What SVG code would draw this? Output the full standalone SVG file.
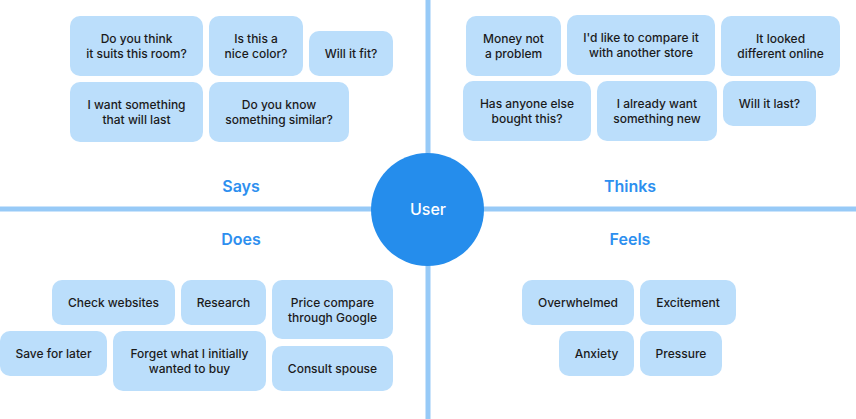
<svg xmlns="http://www.w3.org/2000/svg" width="856" height="419" viewBox="0 0 856 419">
<style>
.box{fill:#BBDEFB}
.t{font-family:Inter,"Noto Sans","Liberation Sans",sans-serif;font-size:12px;font-weight:500;fill:#1B1B1B;text-anchor:middle}
.lbl{font-family:Inter,"Noto Sans","Liberation Sans",sans-serif;font-size:16px;font-weight:600;fill:#2D8FEF;text-anchor:middle}
.axis{stroke:#97CAF7;stroke-width:5;fill:none}
</style>
<rect width="856" height="419" fill="#FFFFFF"/>
<g id="connectors">
<line class="axis" x1="0" y1="209" x2="856" y2="209"/>
<line class="axis" x1="428" y1="0" x2="428" y2="419"/>
</g>
<g id="labels">
<text class="lbl" x="241" y="192">Says</text>
<text class="lbl" x="630" y="192">Thinks</text>
<text class="lbl" x="241" y="245">Does</text>
<text class="lbl" x="630" y="245">Feels</text>
</g>
<g id="user">
<circle cx="427.5" cy="209.5" r="56.5" fill="#258DEC"/>
<text x="428" y="214.5" style="font-family:Inter,'Noto Sans','Liberation Sans',sans-serif;font-size:16px;font-weight:500;fill:#FFFFFF;text-anchor:middle">User</text>
</g>
<g id="says">
<g id="s1"><rect class="box" x="70" y="16" width="133" height="60" rx="10"/><text class="t" x="136.5" y="42.7">Do you think</text><text class="t" x="136.5" y="57.7">it suits this room?</text></g>
<g id="s2"><rect class="box" x="209" y="16" width="94" height="60" rx="10"/><text class="t" x="256" y="42.7">Is this a</text><text class="t" x="256" y="57.7">nice color?</text></g>
<g id="s3"><rect class="box" x="309" y="31" width="84" height="45" rx="10"/><text class="t" x="351" y="57.8">Will it fit?</text></g>
<g id="s4"><rect class="box" x="70" y="82" width="133" height="60" rx="10"/><text class="t" x="136.5" y="108.7">I want something</text><text class="t" x="136.5" y="123.7">that will last</text></g>
<g id="s5"><rect class="box" x="209" y="82" width="140" height="60" rx="10"/><text class="t" x="279" y="108.7">Do you know</text><text class="t" x="279" y="123.7">something similar?</text></g>
</g>
<g id="thinks">
<g id="t1"><rect class="box" x="466" y="16" width="95" height="60" rx="10"/><text class="t" x="513.5" y="42.7">Money not</text><text class="t" x="513.5" y="57.7">a problem</text></g>
<g id="t2"><rect class="box" x="567" y="15" width="148" height="60" rx="10"/><text class="t" x="641" y="41.7">I'd like to compare it</text><text class="t" x="641" y="56.7">with another store</text></g>
<g id="t3"><rect class="box" x="721" y="16" width="119" height="60" rx="10"/><text class="t" x="780.5" y="42.7">It looked</text><text class="t" x="780.5" y="57.7">different online</text></g>
<g id="t4"><rect class="box" x="463" y="81" width="128" height="60" rx="10"/><text class="t" x="527" y="107.7">Has anyone else</text><text class="t" x="527" y="122.7">bought this?</text></g>
<g id="t5"><rect class="box" x="597" y="81" width="120" height="60" rx="10"/><text class="t" x="657" y="107.7">I already want</text><text class="t" x="657" y="122.7">something new</text></g>
<g id="t6"><rect class="box" x="723" y="81" width="93" height="45" rx="10"/><text class="t" x="769.5" y="107.8">Will it last?</text></g>
</g>
<g id="does">
<g id="d1"><rect class="box" x="52" y="280" width="123" height="45" rx="10"/><text class="t" x="113.5" y="306.8">Check websites</text></g>
<g id="d2"><rect class="box" x="181" y="280" width="85" height="45" rx="10"/><text class="t" x="223.5" y="306.8">Research</text></g>
<g id="d3"><rect class="box" x="272" y="280" width="121" height="59" rx="10"/><text class="t" x="332.5" y="306.8">Price compare</text><text class="t" x="332.5" y="321.8">through Google</text></g>
<g id="d4"><rect class="box" x="0" y="331" width="107" height="45" rx="10"/><text class="t" x="53.5" y="357.8">Save for later</text></g>
<g id="d5"><rect class="box" x="113" y="331" width="153" height="60" rx="10"/><text class="t" x="189.5" y="357.8">Forget what I initially</text><text class="t" x="189.5" y="372.8">wanted to buy</text></g>
<g id="d6"><rect class="box" x="272" y="346" width="121" height="45" rx="10"/><text class="t" x="332.5" y="372.8">Consult spouse</text></g>
</g>
<g id="feels">
<g id="f1"><rect class="box" x="522" y="280" width="112" height="45" rx="10"/><text class="t" x="578" y="306.8">Overwhelmed</text></g>
<g id="f2"><rect class="box" x="640" y="280" width="96" height="45" rx="10"/><text class="t" x="688" y="306.8">Excitement</text></g>
<g id="f3"><rect class="box" x="559" y="331" width="75" height="45" rx="10"/><text class="t" x="596.5" y="357.8">Anxiety</text></g>
<g id="f4"><rect class="box" x="640" y="331" width="82" height="45" rx="10"/><text class="t" x="681" y="357.8">Pressure</text></g>
</g>
</svg>
